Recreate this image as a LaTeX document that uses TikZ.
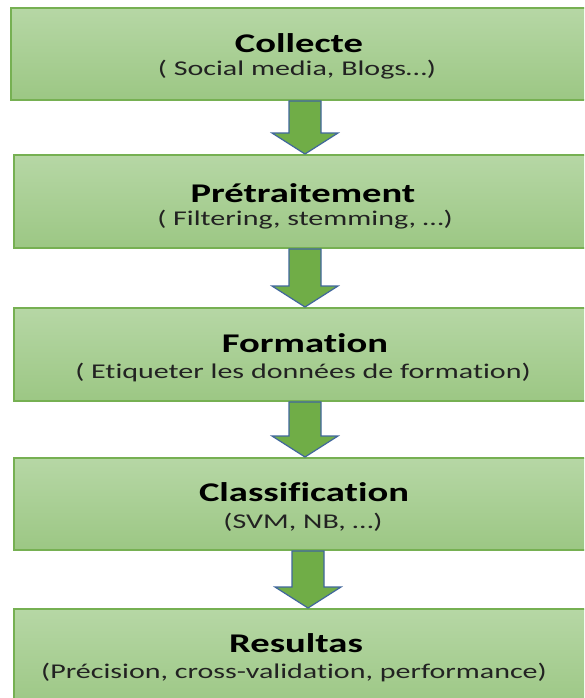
\documentclass[tikz,border=0pt]{standalone}
\usepackage{fontspec}
\usetikzlibrary{calc}
\newfontfamily\boxfont[FakeStretch=1.43,Ligatures=NoCommon]{Carlito}
\definecolor{boxtop}{HTML}{B6D7A5}
\definecolor{boxbot}{HTML}{9CC784}
\definecolor{boxline}{HTML}{76B052}
\definecolor{arrfill}{HTML}{70AD47}
\definecolor{arrline}{HTML}{41679C}
\definecolor{subtext}{HTML}{222222}
\tikzset{
  stagebox/.style={rectangle, draw=boxline, line width=2pt, top color=boxtop, bottom color=boxbot, inner sep=0pt},
  titletext/.style={font=\boxfont\bfseries\fontsize{27}{30}\selectfont, text=black, inner sep=0pt},
  subtitletext/.style={font=\boxfont\fontsize{21}{24}\selectfont, text=subtext, inner sep=0pt},
  blockarrow/.style={fill=arrfill, draw=arrline, line width=1.2pt, line join=miter}
}
\newcommand\stagearrow[3]{%
  \coordinate (ax) at (#3,0);
  \coordinate (as) at (ax |- #1.south);
  \coordinate (at) at (ax |- #2.north);
  \draw[blockarrow]
    ($(as)+(-16,0)$) -- ($(as)+(16,0)$)
    -- ($(at)+(16,-21)$) -- ($(at)+(33,-21)$)
    -- (at)
    -- ($(at)+(-33,-21)$) -- ($(at)+(-16,-21)$) -- cycle;}
\begin{document}
\begin{tikzpicture}[x=1pt,y=-1pt]
\useasboundingbox (0,0) rectangle (584,698);
\clip (0,0) rectangle (584,698);
\fill[white] (0,0) rectangle (584,698);
% boxes
\node[stagebox, minimum width=579pt, minimum height=92pt] (b1) at (300.5,54) {};
\node[stagebox, minimum width=576pt, minimum height=93pt] (b2) at (302,201.5) {};
\node[stagebox, minimum width=576pt, minimum height=93pt] (b3) at (302,354.5) {};
\node[stagebox, minimum width=576pt, minimum height=92pt] (b4) at (302,504) {};
\node[stagebox, minimum width=576pt, minimum height=100pt] (b5) at (302,659) {};
% texts
\node[titletext] (t1) at (299,43) {Collecte};
\node[subtitletext] (s1) at (297,70) {( Social media, Blogs…)};
\node[titletext] (t2) at (303,193) {Prétraitement};
\node[subtitletext] (s2) at (305,220) {( Filtering, stemming, …)};
\node[titletext] (t3) at (305,343) {Formation};
\node[subtitletext] (s3) at (303,373) {( Etiqueter les données de formation)};
\node[titletext] (t4) at (304,492) {Classification};
\node[subtitletext] (s4) at (303,522) {(SVM, NB, …)};
\node[titletext] (t5) at (296,643) {Resultas};
\node[subtitletext] (s5) at (294,673) {(Précision, cross-validation, performance)};
% arrows
\stagearrow{b1}{b2}{305}
\stagearrow{b2}{b3}{305}
\stagearrow{b3}{b4}{305}
\stagearrow{b4}{b5}{308}
\end{tikzpicture}
\end{document}
